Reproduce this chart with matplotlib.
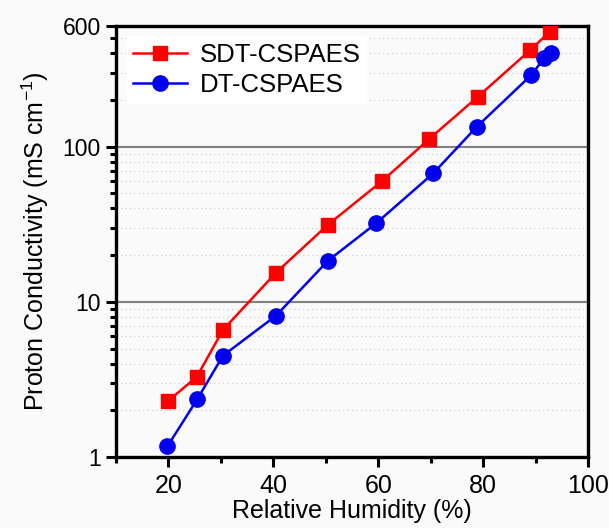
import matplotlib
matplotlib.use("Agg")
import matplotlib.pyplot as plt
from matplotlib.ticker import FixedLocator, NullFormatter

plt.rcParams['font.family'] = ['Liberation Sans', 'DejaVu Sans']
plt.rcParams['mathtext.fontset'] = 'custom'
plt.rcParams['mathtext.rm'] = 'Liberation Sans'

rh_sdt = [20, 25.4, 30.4, 40.5, 50.4, 60.8, 69.7, 79.0, 89.0, 92.7]
sig_sdt = [2.31, 3.28, 6.6, 15.4, 31.4, 60.3, 112, 210, 420, 550]
rh_dt = [19.8, 25.5, 30.4, 40.5, 50.4, 59.6, 70.5, 78.8, 89.2, 91.6, 93.0]
sig_dt = [1.17, 2.36, 4.5, 8.14, 18.4, 32.1, 67.4, 134.5, 290, 371, 403]
labels = ["SDT-CSPAES", "DT-CSPAES"]
xticks = [20, 40, 60, 80, 100]
yticks = [1, 10, 100, 600]
yticklabels = ["1", "10", "100", "600"]

fig = plt.figure(figsize=(6.09, 5.28), dpi=100, facecolor='#fafafa')
ax = fig.add_axes([116/609, 1 - 457/528, (588-116)/609, (457-26)/528])
ax.set_facecolor('#fafafa')

ax.set_yscale('log')
ax.set_xlim(10, 100)
ax.set_ylim(1, 600)

# minor grid (dotted) and major grid
minor = [m * 10**d for d in range(0, 3) for m in range(2, 10)]
minor = [v for v in minor if v < 600 and v not in (10, 100)]
for v in minor:
    ax.axhline(v, color='#c8c8c8', lw=0.8, ls=(0, (1, 3)), zorder=0)
for v in (10, 100):
    ax.axhline(v, color='#808080', lw=1.5, zorder=0)

ax.plot(rh_sdt, sig_sdt, color='#ff0000', marker='s', ms=10.5, lw=1.8, label=labels[0], zorder=3)
ax.plot(rh_dt, sig_dt, color='#0000ee', marker='o', ms=11, lw=1.8, label=labels[1], zorder=3)

ax.yaxis.set_major_locator(FixedLocator(yticks))
ax.set_yticklabels(yticklabels)
ax.yaxis.set_minor_locator(FixedLocator(minor))
ax.yaxis.set_minor_formatter(NullFormatter())
ax.set_xticks(xticks)
ax.set_xticks([10, 30, 50, 70, 90], minor=True)

for s in ax.spines.values():
    s.set_linewidth(2.4)
ax.tick_params(which='major', direction='out', length=7, width=2.2, pad=4)
ax.tick_params(which='minor', direction='out', length=4, width=2.2)
ax.tick_params(axis='y', which='major', labelsize=16.5)
ax.tick_params(axis='x', which='major', labelsize=18, pad=5)
ax.tick_params(top=False, right=False)

ax.set_xlabel("Relative Humidity (%)", fontsize=18, labelpad=1)
ax.set_ylabel("Proton Conductivity (mS cm$^{-1}$)", fontsize=18, labelpad=8)

leg = ax.legend(loc='upper left', fontsize=18.5, frameon=True, fancybox=False,
                edgecolor='none', facecolor='white', framealpha=1,
                handlelength=2.1, handletextpad=0.5, borderpad=0.25,
                labelspacing=0.25, borderaxespad=0.4)

fig.savefig("out.png", dpi=100, facecolor=fig.get_facecolor())
